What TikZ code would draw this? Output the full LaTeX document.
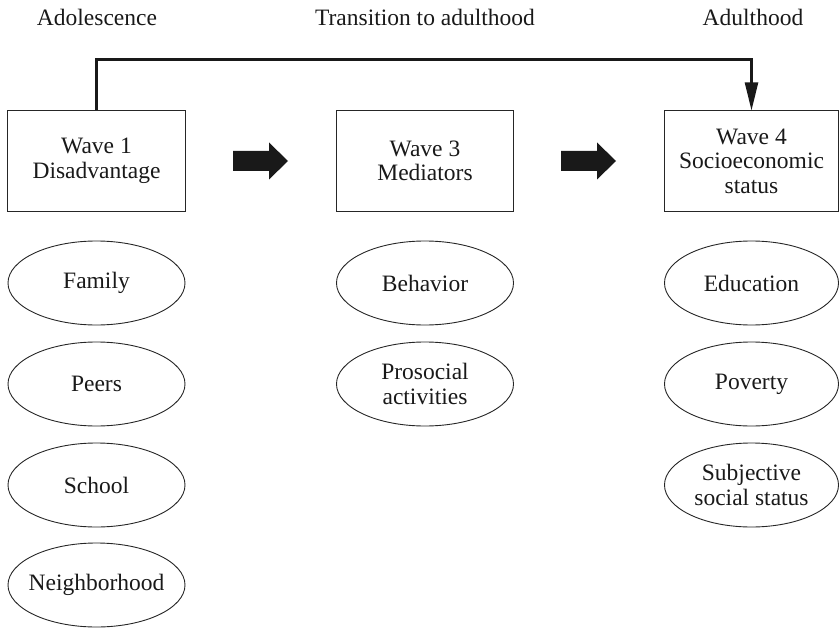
\documentclass[tikz,border=0pt]{standalone}
\usepackage{fontspec}
\setmainfont{Liberation Serif}
\usetikzlibrary{shapes.geometric,arrows.meta}
\begin{document}
\begin{tikzpicture}[x=1bp,y=-1bp,
  every node/.style={font=\fontsize{23.5bp}{24.5bp}\selectfont, text=black!90},
  wavebox/.style={draw=black!85, line width=1bp, minimum width=177bp, minimum height=100bp, inner sep=0pt, align=center},
  oval/.style={draw=black!85, ellipse, line width=0.9bp, minimum width=177bp, minimum height=84bp, inner ysep=0pt, inner xsep=-8bp, align=center},
  head/.style={anchor=base},
  blockarrow/.style={fill=black!90}
]
\useasboundingbox (0,0) rectangle (839,628);
% headings
\node[head] (h1) at (97,26) {Adolescence};
\node[head] (h2) at (425,26) {Transition to adulthood};
\node[head] (h3) at (753,26) {Adulthood};
% boxes
\node[wavebox] (b1) at (96.5,161) {Wave 1\\Disadvantage};
\node[wavebox] (b2) at (425,161) {Wave 3\\Mediators};
\node[wavebox, minimum width=174bp] (b3) at (751.5,161) {Wave 4\\Socioeconomic\\status};
% long connector
\draw[line width=2.2bp, draw=black!90, -{Triangle[length=28bp,width=13bp]}] (b1.north) -- ++(0,-51) -| (b3.north);
% block arrows
\coordinate (a1) at (233,161);
\coordinate (a2) at (561,161);
\foreach \a in {a1,a2}{
  \fill[blockarrow] (\a) ++(0,-10) -- ++(36,0) -- ++(0,-8.5) -- ++(19,18.5) -- ++(-19,18.5) -- ++(0,-8.5) -- ++(-36,0) -- cycle;
}
% ellipses column 1
\node[oval] (e1) at (96.5,283) {Family};
\node[oval] (e2) at (96.5,384) {Peers};
\node[oval] (e3) at (96.5,485) {School};
\node[oval] (e4) at (96.5,585) {Neighborhood};
% column 2
\node[oval] (m1) at (425,283) {Behavior};
\node[oval] (m2) at (425,384) {Prosocial\\activities};
% column 3
\node[oval, minimum width=174bp] (s1) at (751.5,283) {Education};
\node[oval, minimum width=174bp] (s2) at (751.5,384) {Poverty};
\node[oval, minimum width=174bp] (s3) at (751.5,485) {Subjective\\social status};
\end{tikzpicture}
\end{document}
